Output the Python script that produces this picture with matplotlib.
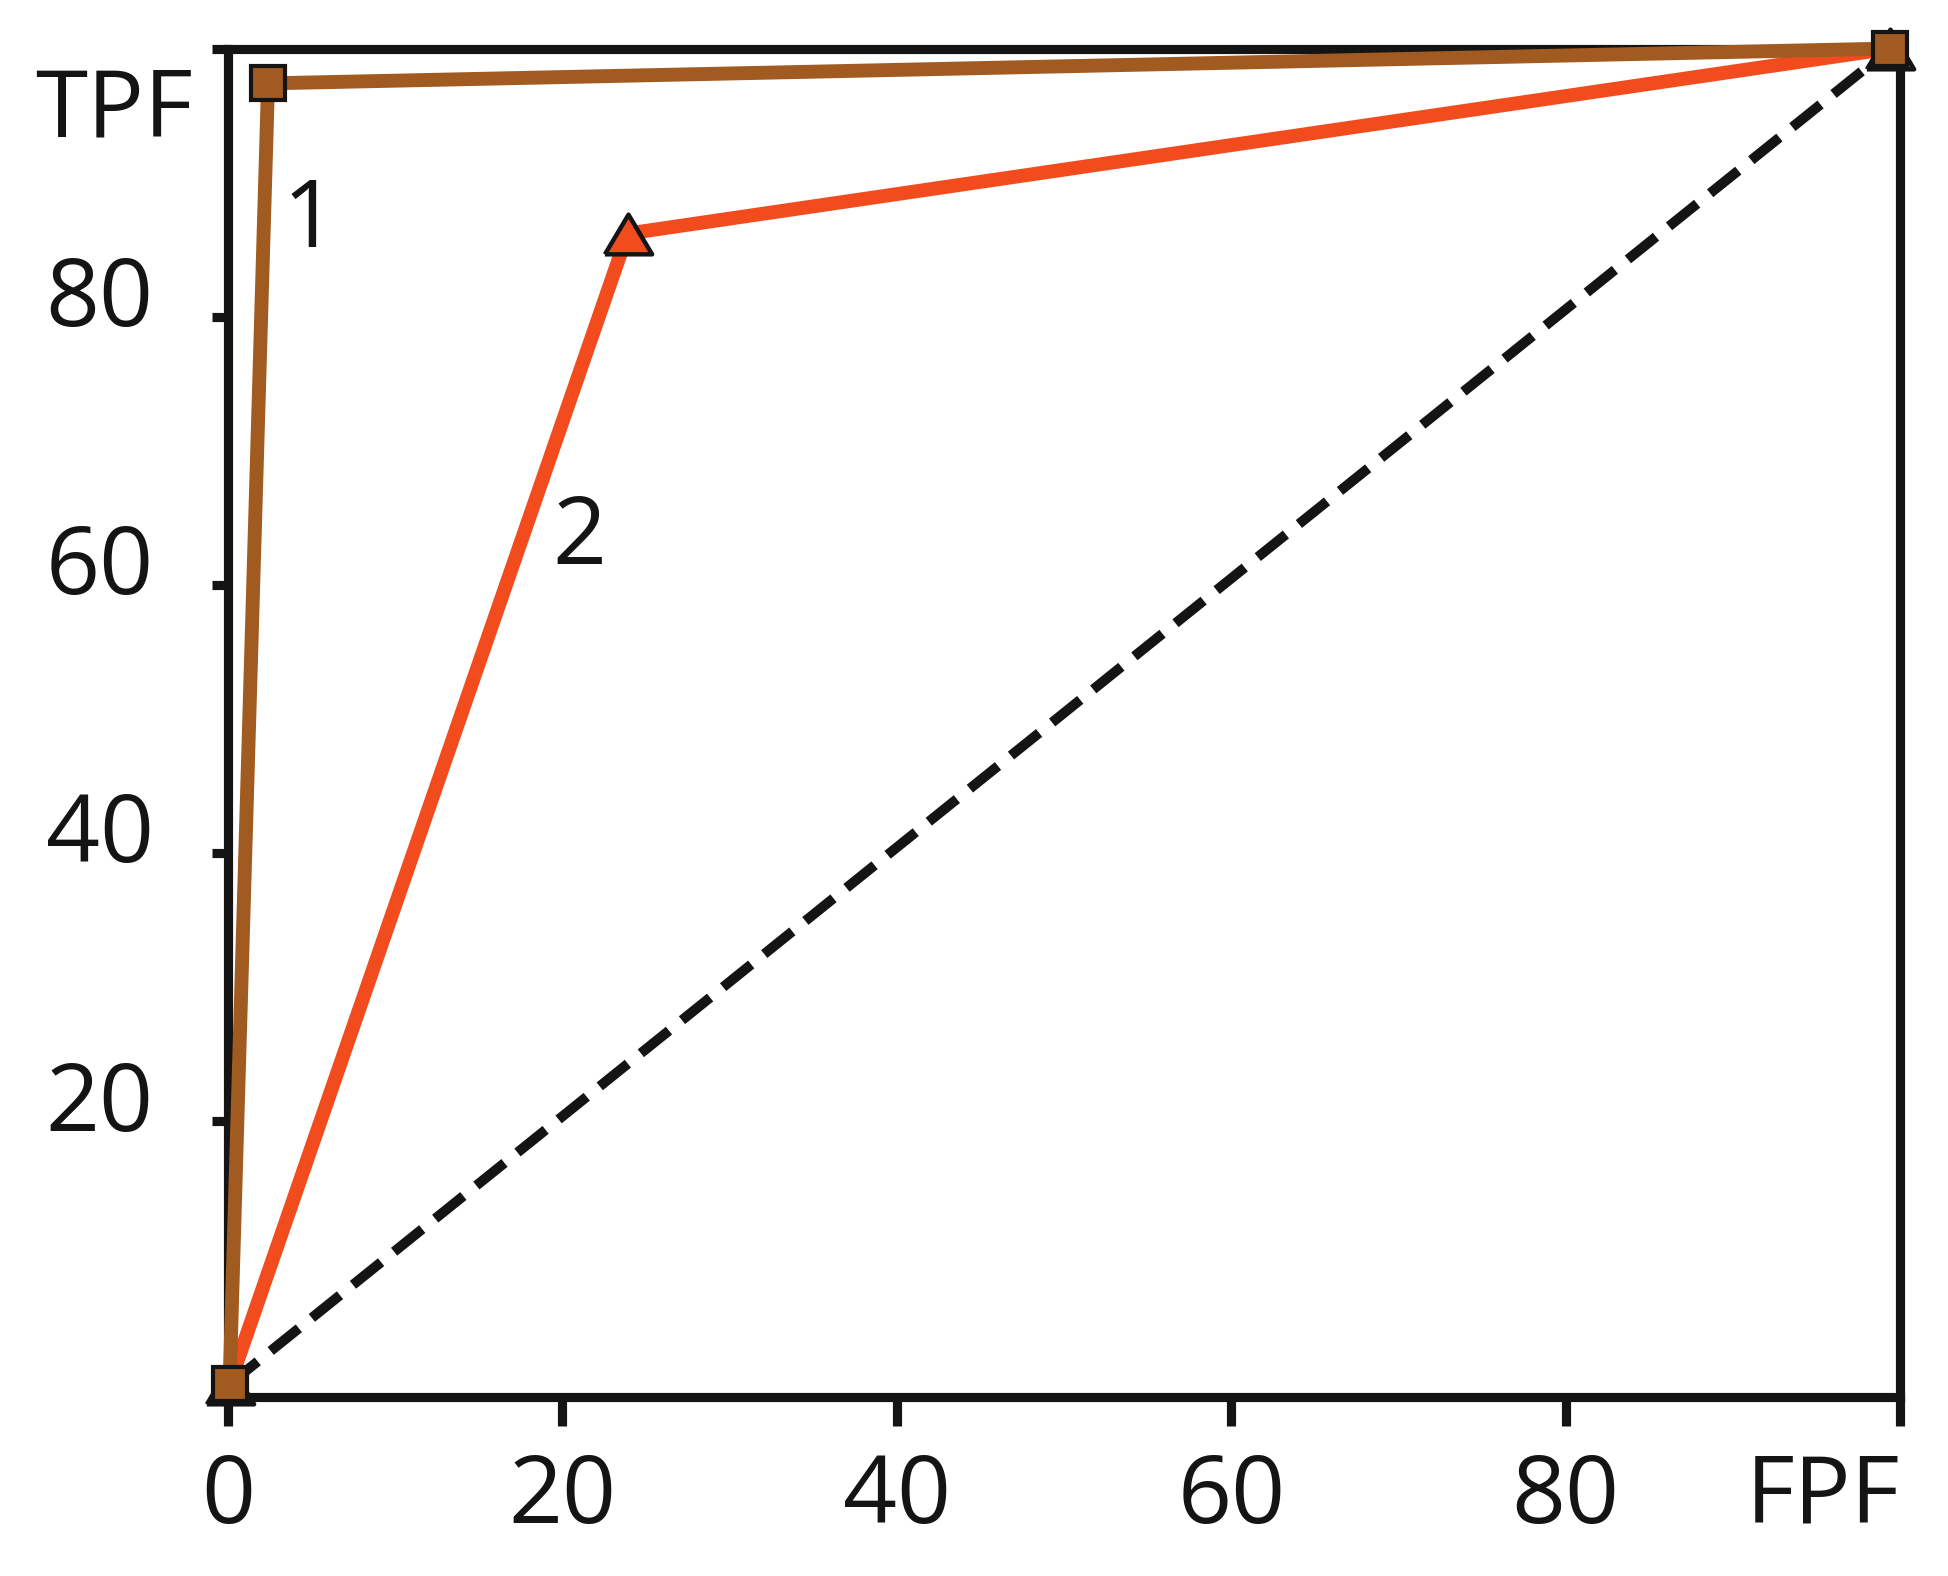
import numpy as np
import matplotlib
matplotlib.use('Agg')
import matplotlib.pyplot as plt
from matplotlib.transforms import ScaledTranslation

# ROC points (FPF, TPF in %)
test1_fpf = [0.1, 2.4, 99.4]
test1_tpf = [0.4, 97.4, 100.0]
test2_fpf = [0.1, 23.9, 99.4]
test2_tpf = [0.4, 86.2, 100.0]
chance_fpf = [0.1, 99.4]
chance_tpf = [0.4, 100.0]

x_ticks = [0, 20, 40, 60, 80, 100]
x_labels = ['0', '20', '40', '60', '80', 'FPF']
y_ticks = [20, 40, 60, 80, 100]
y_labels = ['20', '40', '60', '80', 'TPF']

brown = '#A15A1F'
orange = '#F24C1E'
ink = '#141414'

plt.rcParams['font.family'] = ['Open Sans', 'DejaVu Sans']
plt.rcParams['lines.scale_dashes'] = False

fig = plt.figure(figsize=(9.74, 7.88), dpi=200)
ax = fig.add_axes([0.117, 0.1133, 0.8584, 0.8559])

# chance diagonal
ax.plot(chance_fpf, chance_tpf, color=ink, lw=3.6, dashes=(13, 6),
        zorder=1, clip_on=False)

# triangle marker, a bit wider than tall
tri = [(-1, -0.84), (1, -0.84), (0, 0.84), (-1, -0.84)]

ax.plot(test2_fpf, test2_tpf, color=orange, lw=5.0, marker=tri,
        markersize=17, markerfacecolor=orange, markeredgecolor=ink,
        markeredgewidth=1.6, zorder=2, clip_on=False)
ax.plot(test1_fpf, test1_tpf, color=brown, lw=5.0, marker='s',
        markersize=12.3, markerfacecolor=brown, markeredgecolor=ink,
        markeredgewidth=1.5, zorder=3, clip_on=False)

ax.text(4.9, 87.0, '1', fontsize=34, color=ink, ha='center', va='center')
ax.text(21.0, 63.4, '2', fontsize=34, color=ink, ha='center', va='center')

ax.set_xlim(0, 100)
ax.set_ylim(-0.6, 100)

for s in ax.spines.values():
    s.set_linewidth(3.3)
    s.set_color(ink)

ax.set_xticks(x_ticks)
ax.set_xticklabels(x_labels)
ax.set_yticks(y_ticks)
ax.set_yticklabels(y_labels)
ax.tick_params(axis='x', length=10.6, width=3.3, color=ink, labelsize=34,
               labelcolor=ink, pad=9)
ax.tick_params(axis='y', length=5.7, width=3.3, color=ink, labelsize=34,
               labelcolor=ink, pad=21)

# nudge labels the way the original figure has them
for lab in ax.get_yticklabels():
    if lab.get_text() == 'TPF':
        off = ScaledTranslation(14 / 72, -19 / 72, fig.dpi_scale_trans)
    else:
        off = ScaledTranslation(0, 9.4 / 72, fig.dpi_scale_trans)
    lab.set_transform(lab.get_transform() + off)
for lab in ax.get_xticklabels():
    if lab.get_text() == 'FPF':
        lab.set_horizontalalignment('right')

fig.savefig('out.png', dpi=200)
